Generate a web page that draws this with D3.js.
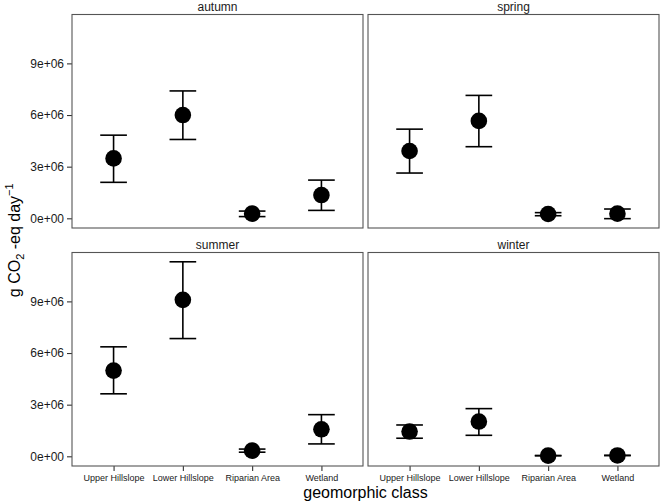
<!DOCTYPE html>
<html>
<head>
<meta charset="utf-8">
<script src="https://cdn.jsdelivr.net/npm/d3@7"></script>
<style>
  html, body { margin: 0; padding: 0; background: #fff; }
  text { font-family: "Liberation Sans", Arial, Helvetica, sans-serif; }
</style>
</head>
<body>
<svg id="chart" width="661" height="502"></svg>
<script>
// ---- data ----
const categories = ["Upper Hillslope", "Lower Hillslope", "Riparian Area", "Wetland"];
const seasons = ["autumn", "spring", "summer", "winter"];
const yTicks = [0, 3e6, 6e6, 9e6];
const yTickLabels = ["0e+00", "3e+06", "6e+06", "9e+06"];

const autumnMean  = [3.48e6, 6.00e6, 0.27e6, 1.35e6];
const autumnLow   = [2.09e6, 4.58e6, 0.10e6, 0.46e6];
const autumnHigh  = [4.83e6, 7.40e6, 0.42e6, 2.22e6];

const springMean  = [3.91e6, 5.66e6, 0.25e6, 0.27e6];
const springLow   = [2.63e6, 4.16e6, 0.15e6, -0.02e6];
const springHigh  = [5.18e6, 7.14e6, 0.33e6, 0.54e6];

const summerMean  = [4.98e6, 9.09e6, 0.33e6, 1.57e6];
const summerLow   = [3.63e6, 6.84e6, 0.24e6, 0.72e6];
const summerHigh  = [6.36e6, 11.30e6, 0.42e6, 2.42e6];

const winterMean  = [1.44e6, 2.02e6, 0.04e6, 0.05e6];
const winterLow   = [1.05e6, 1.22e6, 0.03e6, 0.04e6];
const winterHigh  = [1.82e6, 2.77e6, 0.05e6, 0.06e6];

const seriesBySeason = {
  autumn: [autumnMean, autumnLow, autumnHigh],
  spring: [springMean, springLow, springHigh],
  summer: [summerMean, summerLow, summerHigh],
  winter: [winterMean, winterLow, winterHigh]
};

// ---- layout ----
const svg = d3.select("#chart");
const panelW = 291, panelH = 213.5;
const lefts = [72, 368];
const tops = [14.5, 252.5];
const yDomain = [-0.563e6, 11.84e6];

seasons.forEach((season, i) => {
  const col = i % 2, row = Math.floor(i / 2);
  const x0 = lefts[col], y0 = tops[row];
  const g = svg.append("g").attr("transform", `translate(${x0},${y0})`);

  const x = d3.scalePoint().domain(categories).range([0, panelW]).padding(0.6);
  const y = d3.scaleLinear().domain(yDomain).range([panelH, 0]);
  const [mean, low, high] = seriesBySeason[season];
  const data = categories.map((c, k) => ({ c, m: mean[k], lo: low[k], hi: high[k] }));
  const capW = x.step() * 0.385;

  // strip title
  g.append("text").attr("x", panelW / 2).attr("y", -3.5)
    .attr("text-anchor", "middle").attr("font-size", 12).attr("fill", "#1a1a1a")
    .text(season);

  // y axis on left column
  if (col === 0) {
    const ya = d3.axisLeft(y).tickValues(yTicks)
      .tickFormat((d, k) => yTickLabels[k]).tickSize(5).tickPadding(3);
    const ag = g.append("g").call(ya);
    ag.select(".domain").remove();
    ag.selectAll(".tick line").attr("stroke", "#333").attr("stroke-width", 1.1);
    ag.selectAll(".tick text").attr("font-size", 12).attr("fill", "#1a1a1a")
      .style("font-family", '"Liberation Sans", Arial, sans-serif');
  }
  // x axis on bottom row
  if (row === 1) {
    const xa = d3.axisBottom(x).tickSize(5).tickPadding(4);
    const ag = g.append("g").attr("transform", `translate(0,${panelH})`).call(xa);
    ag.select(".domain").remove();
    ag.selectAll(".tick line").attr("stroke", "#333").attr("stroke-width", 1.1);
    ag.selectAll(".tick text").attr("font-size", 9).attr("fill", "#1a1a1a")
      .style("font-family", '"Liberation Sans", Arial, sans-serif');
  }

  // error bars
  const eb = g.append("g").attr("stroke", "#000").attr("stroke-width", 1.6).attr("fill", "none");
  data.forEach(d => {
    const cx = x(d.c);
    eb.append("line").attr("x1", cx).attr("x2", cx).attr("y1", y(d.lo)).attr("y2", y(d.hi));
    eb.append("line").attr("x1", cx - capW / 2).attr("x2", cx + capW / 2).attr("y1", y(d.lo)).attr("y2", y(d.lo));
    eb.append("line").attr("x1", cx - capW / 2).attr("x2", cx + capW / 2).attr("y1", y(d.hi)).attr("y2", y(d.hi));
  });

  // points
  g.append("g").selectAll("circle").data(data).enter().append("circle")
    .attr("cx", d => x(d.c)).attr("cy", d => y(d.m)).attr("r", 8.3).attr("fill", "#000");

  // panel border
  g.append("rect").attr("x", 0).attr("y", 0).attr("width", panelW).attr("height", panelH)
    .attr("fill", "none").attr("stroke", "#555").attr("stroke-width", 1.1);
});

// axis titles
svg.append("text").attr("x", (lefts[0] + lefts[1] + panelW) / 2).attr("y", 498)
  .attr("text-anchor", "middle").attr("font-size", 16).attr("fill", "#000")
  .text("geomorphic class");

const yt = svg.append("text")
  .attr("transform", `translate(20,${(tops[0] + tops[1] + panelH) / 2}) rotate(-90)`)
  .attr("text-anchor", "middle").attr("font-size", 16).attr("fill", "#000");
yt.append("tspan").text("g CO");
yt.append("tspan").attr("font-size", 11).attr("dy", 4).text("2");
yt.append("tspan").attr("dy", -4).text(" -eq day");
yt.append("tspan").attr("font-size", 11).attr("dy", -7).text("\u22121");
</script>
</body>
</html>
